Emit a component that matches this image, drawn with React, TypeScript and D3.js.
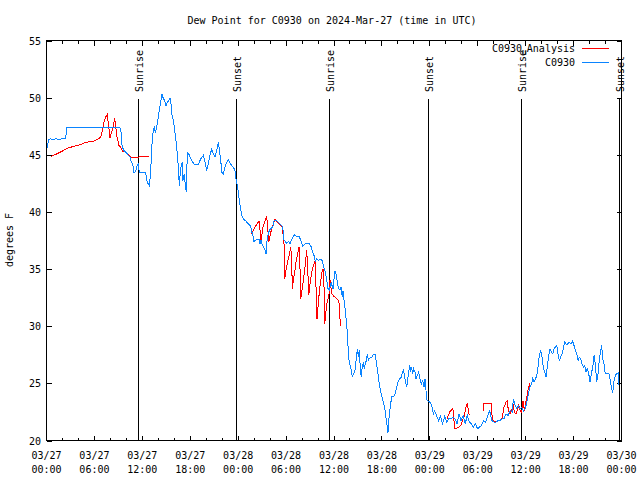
import React from "react";
import * as d3 from "d3";

const TITLE = "Dew Point for C0930 on 2024-Mar-27 (time in UTC)";
const Y_LABEL = "degrees F";
const START_MS = Date.UTC(2024, 2, 27, 0, 0);
const HOURS_SPAN = 72;
const Y_DOMAIN: [number, number] = [20, 55];
const Y_TICKS = [20, 25, 30, 35, 40, 45, 50, 55];

// [hour since 2024-03-27 00:00 UTC, label]
const sunEvents: [number, string][] = [
  [11.5, "Sunrise"],
  [23.82, "Sunset"],
  [35.41, "Sunrise"],
  [47.81, "Sunset"],
  [59.46, "Sunrise"],
  [71.73, "Sunset"],
];

// C0930 observations: [hour, dew point F]
const stationSeries: [number, number][] = [
  [0.03, 45.38], [0.1, 45.81], [0.31, 46.34], [0.44, 46.4], [0.81, 46.34], [1.19, 46.4], [1.57, 46.34], [1.98, 46.4],
  [2.4, 46.43], [2.53, 47.36], [9.2, 47.36], [9.33, 46.98], [9.37, 46.25], [9.49, 45.67], [9.7, 45.38], [9.92, 45.23],
  [10.21, 45.0], [10.46, 44.79], [10.62, 44.35], [10.79, 44.21], [10.96, 43.43], [11.17, 43.54], [11.3, 43.92], [11.5, 44.3],
  [11.62, 43.43], [12.42, 43.43], [12.62, 42.6], [12.87, 42.31], [13.05, 43.48], [13.17, 45.67], [13.3, 46.4], [13.37, 47.27],
  [13.5, 47.41], [13.62, 46.98], [13.8, 47.33], [13.87, 47.85], [14.0, 48.29], [14.12, 48.88], [14.3, 49.6], [14.46, 50.34],
  [14.63, 49.9], [14.8, 49.75], [14.96, 49.31], [15.13, 49.6], [15.3, 49.75], [15.46, 49.95], [15.59, 49.46], [15.72, 48.44],
  [15.88, 48.0], [16.0, 47.41], [16.13, 46.69], [16.3, 45.81], [16.38, 44.94], [16.5, 44.06], [16.63, 42.31], [16.75, 43.48],
  [16.88, 44.06], [17.0, 44.35], [17.09, 42.75], [17.26, 43.34], [17.38, 42.31], [17.51, 41.73], [17.63, 45.23], [17.81, 45.09],
  [17.97, 44.79], [18.18, 44.5], [18.51, 44.15], [19.01, 44.15], [19.22, 44.5], [19.43, 44.79], [19.63, 44.94], [19.85, 44.35],
  [20.06, 43.63], [20.26, 44.21], [20.47, 44.94], [20.69, 45.53], [20.89, 45.09], [21.1, 44.79], [21.31, 45.38], [21.51, 46.1],
  [21.64, 45.53], [21.81, 44.5], [21.98, 43.43], [22.14, 43.34], [22.35, 43.92], [22.57, 44.35], [22.77, 44.59], [22.98, 44.3],
  [23.19, 44.06], [23.39, 43.92], [23.6, 43.63], [23.73, 42.9], [23.89, 42.31], [24.02, 41.73], [24.14, 41.0], [24.32, 40.28],
  [24.44, 39.69], [24.64, 39.4], [24.98, 39.19], [25.27, 38.96], [25.57, 38.73], [25.7, 38.23], [25.82, 38.09], [25.98, 37.35],
  [26.11, 37.5], [26.32, 37.59], [26.61, 37.59], [26.74, 37.21], [26.86, 37.5], [26.99, 37.21], [27.15, 36.92], [27.32, 36.78],
  [27.49, 36.34], [27.65, 37.79], [27.9, 38.38], [28.08, 38.53], [28.33, 38.67], [28.49, 39.19], [28.74, 39.31], [29.03, 39.1],
  [29.33, 38.9], [29.58, 38.67], [29.75, 37.5], [29.91, 37.44], [30.08, 37.21], [30.28, 37.44], [30.49, 37.21], [30.66, 37.5],
  [30.83, 37.79], [31.03, 38.0], [31.33, 37.85], [31.66, 37.85], [31.83, 37.5], [32.08, 36.98], [32.37, 37.21], [32.66, 37.21],
  [32.91, 37.21], [33.16, 36.92], [33.33, 36.48], [33.5, 36.19], [33.66, 35.69], [33.84, 35.9], [34.04, 35.75], [34.25, 35.9],
  [34.5, 35.75], [34.66, 35.31], [34.87, 34.88], [35.09, 34.0], [35.25, 33.28], [35.41, 33.19], [35.5, 33.42], [35.66, 33.85],
  [35.75, 33.56], [35.88, 33.28], [36.0, 34.15], [36.12, 34.82], [36.25, 34.59], [36.41, 33.85], [36.59, 33.28], [36.75, 33.19],
  [36.88, 33.4], [37.04, 32.54], [37.13, 33.1], [37.26, 32.25], [37.42, 31.38], [37.59, 30.06], [37.72, 29.04], [37.76, 28.17],
  [37.88, 27.0], [38.01, 26.57], [38.17, 26.13], [38.29, 25.6], [38.47, 25.84], [38.63, 26.13], [38.76, 27.0], [38.92, 28.03],
  [39.05, 27.29], [39.17, 27.88], [39.3, 26.28], [39.42, 25.54], [39.55, 26.57], [39.67, 26.72], [39.8, 26.28], [39.92, 26.72],
  [40.05, 27.0], [40.17, 27.59], [40.3, 27.0], [40.42, 27.15], [40.6, 27.29], [40.76, 27.29], [40.92, 27.53], [41.17, 27.53],
  [41.35, 26.57], [41.51, 25.84], [41.67, 24.96], [41.85, 24.23], [42.02, 23.79], [42.18, 23.35], [42.35, 22.92], [42.48, 22.19],
  [42.64, 21.32], [42.76, 20.7], [42.93, 22.34], [43.1, 23.21], [43.23, 23.88], [43.52, 23.88], [43.68, 24.09], [43.85, 24.67],
  [44.02, 25.1], [44.18, 25.4], [44.35, 25.4], [44.52, 25.84], [44.68, 26.13], [44.8, 25.84], [44.93, 25.25], [45.11, 24.67],
  [45.23, 25.4], [45.36, 25.98], [45.48, 26.56], [45.61, 26.13], [45.73, 26.36], [45.86, 25.84], [45.98, 26.28], [46.14, 25.98],
  [46.27, 25.4], [46.43, 25.69], [46.61, 25.98], [46.77, 25.4], [46.93, 24.96], [47.11, 25.25], [47.27, 24.67], [47.4, 25.4],
  [47.52, 24.38], [47.65, 23.5], [48.02, 23.35], [48.23, 23.06], [48.44, 22.34], [48.57, 22.62], [48.84, 22.19], [49.09, 21.75],
  [49.34, 22.1], [49.6, 21.47], [49.86, 22.1], [50.11, 21.6], [50.38, 21.9], [50.63, 21.9], [50.89, 22.04], [51.15, 21.9],
  [51.4, 21.47], [51.65, 22.34], [51.9, 21.75], [52.17, 22.19], [52.43, 21.47], [52.69, 22.19], [52.94, 21.6], [53.19, 21.47],
  [53.46, 21.17], [53.71, 21.47], [53.97, 21.03], [54.22, 21.17], [54.48, 21.32], [54.73, 21.75], [55.0, 21.6], [55.25, 22.19],
  [55.51, 22.62], [55.76, 21.75], [56.04, 21.6], [56.29, 21.6], [56.54, 21.75], [56.79, 21.75], [57.04, 21.9], [57.29, 21.9],
  [57.54, 22.34], [57.8, 22.19], [58.07, 22.62], [58.32, 22.48], [58.46, 23.65], [58.68, 23.06], [58.89, 22.78], [59.05, 23.06],
  [59.3, 22.78], [59.51, 22.92], [59.72, 22.57], [59.93, 22.78], [60.13, 23.27], [60.33, 24.03], [60.55, 24.67], [60.76, 24.96],
  [60.88, 25.4], [61.05, 25.1], [61.21, 25.4], [61.38, 25.6], [61.55, 26.42], [61.71, 27.44], [61.88, 27.88], [62.05, 27.29],
  [62.21, 26.42], [62.38, 25.98], [62.55, 25.54], [62.71, 26.42], [62.89, 27.44], [63.05, 28.03], [63.21, 27.74], [63.39, 27.59],
  [63.55, 28.03], [63.71, 28.17], [63.89, 28.32], [64.05, 27.59], [64.21, 27.0], [64.39, 27.29], [64.55, 27.59], [64.71, 28.03],
  [64.89, 28.6], [65.05, 28.46], [65.22, 28.4], [65.39, 28.6], [65.56, 28.52], [65.72, 28.46], [65.89, 28.69], [66.05, 28.32],
  [66.22, 27.88], [66.39, 27.59], [66.56, 27.0], [66.72, 27.29], [66.89, 27.15], [67.06, 26.72], [67.22, 26.42], [67.39, 26.57],
  [67.56, 25.98], [67.72, 26.28], [67.9, 25.84], [68.06, 25.1], [68.22, 25.84], [68.4, 26.42], [68.56, 27.44], [68.72, 26.72],
  [68.9, 25.1], [69.06, 25.84], [69.22, 27.0], [69.4, 27.88], [69.52, 28.32], [69.65, 27.15], [69.81, 26.72], [69.97, 25.84],
  [70.22, 25.9], [70.44, 25.84], [70.56, 25.4], [70.72, 24.67], [70.9, 24.15], [71.07, 25.25], [71.23, 25.69], [71.4, 25.84],
  [71.57, 25.9], [71.66, 24.96], [71.73, 25.0],
];

// C0930 Analysis: [hour, dew point F], null = gap
const analysisSeries: ([number, number] | null)[] = [
  [0.56, 44.85], [1.15, 45.03], [1.57, 45.18], [2.07, 45.35], [2.6, 45.58], [3.23, 45.7], [3.86, 45.81], [4.48, 45.96],
  [4.91, 46.1], [5.86, 46.16], [6.36, 46.34], [6.79, 46.54], [6.99, 47.13], [7.2, 47.85], [7.41, 48.29], [7.61, 48.53],
  [7.83, 47.27], [7.95, 46.49], [8.16, 46.98], [8.36, 47.41], [8.54, 48.24], [8.79, 46.69], [8.95, 46.25], [9.08, 45.81],
  [9.37, 45.58], [9.54, 45.31], [9.83, 45.31], [10.12, 45.09], [10.46, 44.88], [10.74, 44.74], [11.37, 44.79], [12.21, 44.85],
  [12.84, 44.88],
  null,
  [25.7, 38.09], [26.11, 38.67], [26.4, 39.02], [26.61, 39.19], [26.74, 38.38], [26.86, 37.56], [27.02, 38.23], [27.15, 38.81],
  [27.4, 39.25], [27.57, 39.6], [27.7, 38.67], [27.83, 37.35], [27.99, 37.94], [28.15, 38.38], [28.4, 38.96], [28.61, 39.4],
  [28.83, 39.16], [29.24, 38.9], [29.53, 38.67], [29.74, 37.21], [29.83, 34.15], [29.95, 34.73], [30.15, 35.46], [30.37, 36.19],
  [30.58, 36.92], [30.7, 35.75], [30.78, 33.28], [30.9, 34.0], [31.08, 34.73], [31.24, 35.6], [31.49, 36.48], [31.62, 36.92],
  [31.74, 35.17], [31.83, 32.4], [31.96, 32.98], [32.16, 34.0], [32.37, 35.17], [32.58, 36.63], [32.71, 35.17], [32.83, 32.69],
  [33.0, 33.71], [33.21, 34.73], [33.41, 35.31], [33.66, 35.75], [33.75, 33.42], [33.87, 30.65], [34.0, 31.67], [34.16, 32.98],
  [34.34, 34.0], [34.5, 34.73], [34.66, 35.03], [34.75, 33.42], [34.84, 30.21], [35.0, 31.38], [35.16, 32.25], [35.34, 32.54],
  [35.41, 33.13], [35.5, 34.0], [35.63, 33.36], [35.75, 32.84], [36.0, 32.6], [36.25, 32.49], [36.54, 32.25], [36.66, 31.96],
  [36.79, 30.06],
  null,
  [50.15, 21.93], [50.53, 22.54], [50.89, 22.78], [51.04, 21.61], [51.15, 21.03], [51.53, 21.14], [51.9, 21.32], [52.28, 22.1],
  [52.53, 22.92], [52.69, 23.27], [52.82, 22.63], [52.94, 22.19],
  null,
  [54.66, 22.6], [54.7, 23.21], [55.71, 23.27], [55.82, 21.75], [56.28, 21.61], [56.67, 21.75], [57.04, 21.9], [57.29, 22.92],
  [57.54, 23.35], [57.7, 23.44], [57.83, 22.63], [58.04, 22.34], [58.29, 22.78], [58.46, 23.07], [58.58, 22.48], [58.79, 22.34],
  [58.95, 22.63], [59.13, 23.07], [59.3, 22.63], [59.51, 22.48], [59.67, 23.44], [59.83, 22.63], [59.96, 23.07], [60.13, 23.79],
  [60.33, 24.53], [60.55, 25.02],
];

const ANALYSIS_COLOR = "#ff0000";
const STATION_COLOR = "#0a84ff";
const FONT = "'DejaVu Sans Mono', 'Liberation Mono', monospace";

const toDate = (h: number) => new Date(START_MS + h * 3600 * 1000);

export default function App() {
  const W = 640, H = 480;
  const L = 46.5, R = 621.5, T = 40.5, B = 440.5;

  const x = d3.scaleUtc().domain([toDate(0), toDate(HOURS_SPAN)]).range([L, R]);
  const y = d3.scaleLinear().domain(Y_DOMAIN).range([B, T]);

  const majorTicks = x.ticks(d3.utcHour.every(6)!);
  const minorTicks = x.ticks(d3.utcHour.every(2)!).filter((d) => d.getUTCHours() % 6 !== 0);
  const fmtDate = d3.utcFormat("%m/%d");
  const fmtTime = d3.utcFormat("%H:%M");

  const line = d3
    .line<[number, number] | null>()
    .defined((d) => d != null)
    .x((d) => x(toDate(d![0])))
    .y((d) => y(d![1]));

  const stationPath = line(stationSeries as any) || "";
  const analysisPath = line(analysisSeries) || "";

  return (
    <svg
      width={W}
      height={H}
      style={{ position: "absolute", left: 0, top: 0, background: "#fff" }}
      fontFamily={FONT}
      fontSize={10}
    >
      <rect x={0} y={0} width={W} height={H} fill="#fff" />
      <text x={332} y={24} textAnchor="middle" fill="#000">{TITLE}</text>

      {/* ticks */}
      <g stroke="#000" strokeWidth={1} shapeRendering="crispEdges">
        {Y_TICKS.map((v) => (
          <g key={"yt" + v}>
            <line x1={L} x2={L + 5} y1={Math.round(y(v)) + 0.5} y2={Math.round(y(v)) + 0.5} />
            <line x1={R} x2={R - 5} y1={Math.round(y(v)) + 0.5} y2={Math.round(y(v)) + 0.5} />
          </g>
        ))}
        {majorTicks.map((d, i) => {
          const px = Math.round(x(d) - 0.5) + 0.5;
          return (
            <g key={"xt" + i}>
              <line x1={px} x2={px} y1={B} y2={B - 5} />
              <line x1={px} x2={px} y1={T} y2={T + 5} />
            </g>
          );
        })}
        {minorTicks.map((d, i) => {
          const px = Math.round(x(d) - 0.5) + 0.5;
          return (
            <g key={"xm" + i}>
              <line x1={px} x2={px} y1={B} y2={B - 3} />
              <line x1={px} x2={px} y1={T} y2={T + 3} />
            </g>
          );
        })}
      </g>

      {/* sunrise / sunset markers */}
      {sunEvents.map(([h, label], i) => {
        const px = Math.round(x(toDate(h)) - 0.5) + 0.5;
        return (
          <g key={"sun" + i}>
            <line x1={px} x2={px} y1={99} y2={B} stroke="#000" strokeWidth={1} shapeRendering="crispEdges" />
            <text transform={`translate(${px + 4},92) rotate(-90)`} textAnchor="start" fill="#000">
              {label}
            </text>
          </g>
        );
      })}

      {/* series */}
      <path d={analysisPath} fill="none" stroke={ANALYSIS_COLOR} strokeWidth={1} shapeRendering="crispEdges" />
      <path d={stationPath} fill="none" stroke={STATION_COLOR} strokeWidth={1} shapeRendering="crispEdges" />

      {/* frame */}
      <rect x={L} y={T} width={R - L} height={B - T} fill="none" stroke="#000" strokeWidth={1} shapeRendering="crispEdges" />

      {/* y labels */}
      {Y_TICKS.map((v) => (
        <text key={"yl" + v} x={41} y={y(v) + 4} textAnchor="end" fill="#000">{v}</text>
      ))}
      {/* x labels */}
      {majorTicks.map((d, i) => (
        <g key={"xl" + i}>
          <text x={x(d)} y={459} textAnchor="middle" fill="#000">{fmtDate(d)}</text>
          <text x={x(d)} y={473} textAnchor="middle" fill="#000">{fmtTime(d)}</text>
        </g>
      ))}
      <text transform="translate(13,240) rotate(-90)" textAnchor="middle" fill="#000">{Y_LABEL}</text>

      {/* legend */}
      <text x={575} y={52} textAnchor="end" fill="#000">
        C0930<tspan fontSize={8} dy={3}>u</tspan><tspan dy={-3}>Analysis</tspan>
      </text>
      <line x1={582} x2={609} y1={48.5} y2={48.5} stroke={ANALYSIS_COLOR} strokeWidth={1} shapeRendering="crispEdges" />
      <text x={575} y={66} textAnchor="end" fill="#000">C0930</text>
      <line x1={582} x2={609} y1={62.5} y2={62.5} stroke={STATION_COLOR} strokeWidth={1} shapeRendering="crispEdges" />
    </svg>
  );
}
